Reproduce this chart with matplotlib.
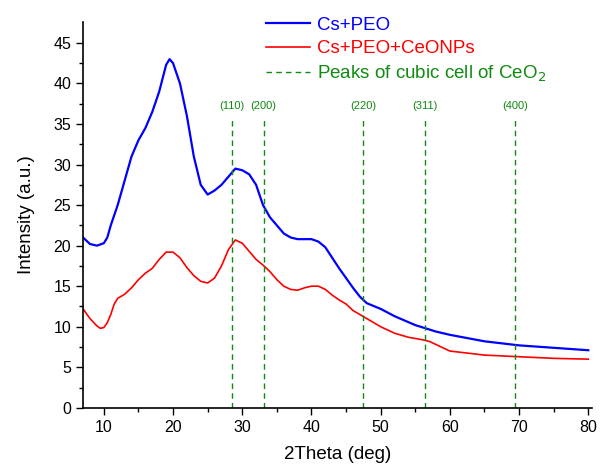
import numpy as np
import matplotlib
matplotlib.use('Agg')
import matplotlib.pyplot as plt

plt.rcParams['font.family'] = ['Liberation Sans', 'DejaVu Sans']

# Cs+PEO (blue)
two_theta_blue = [7, 8, 9, 10, 10.5, 11, 12, 13, 14, 15, 16, 17, 18, 19, 19.5, 20, 21, 22, 23, 24,
                  25, 26, 27, 28, 29, 30, 31, 32, 33, 34, 35, 36, 37, 38, 39, 40, 41, 42, 43, 44,
                  45, 46, 47, 48, 50, 52, 55, 58, 60, 65, 70, 75, 80]
intensity_blue = [21.0, 20.2, 20.0, 20.3, 21.0, 22.5, 25.0, 28.0, 31.0, 33.0, 34.5, 36.5, 39.0, 42.3, 43.0, 42.5, 40.0, 36.0, 31.0, 27.5,
                  26.3, 26.8, 27.5, 28.5, 29.5, 29.3, 28.8, 27.5, 25.0, 23.5, 22.5, 21.5, 21.0, 20.8, 20.8, 20.8, 20.5, 19.8, 18.5, 17.2,
                  16.0, 14.8, 13.7, 12.9, 12.2, 11.3, 10.2, 9.4, 9.0, 8.2, 7.7, 7.4, 7.1]

# Cs+PEO+CeONPs (red)
two_theta_red = [7, 8, 9, 9.5, 10, 10.5, 11, 11.5, 12, 13, 14, 15, 16, 17, 18, 19, 20, 21, 22, 23,
                 24, 25, 26, 27, 28, 29, 30, 31, 32, 33, 34, 35, 36, 37, 38, 39, 40, 41, 42, 43,
                 44, 45, 46, 47, 48, 50, 52, 54, 56, 57, 60, 65, 70, 75, 80]
intensity_red = [12.2, 11.0, 10.1, 9.8, 9.9, 10.5, 11.5, 12.8, 13.5, 14.0, 14.8, 15.8, 16.6, 17.2, 18.3, 19.2, 19.2, 18.5, 17.3, 16.3,
                 15.6, 15.4, 16.0, 17.5, 19.5, 20.7, 20.3, 19.3, 18.3, 17.6, 16.8, 15.8, 15.0, 14.6, 14.5, 14.8, 15.0, 15.0, 14.6, 13.9,
                 13.3, 12.8, 12.0, 11.5, 11.0, 10.0, 9.2, 8.7, 8.4, 8.2, 7.0, 6.5, 6.3, 6.1, 6.0]

# CeO2 cubic reflections
peak_positions = [28.55, 33.08, 47.48, 56.34, 69.4]
peak_labels = ['(110)', '(200)', '(220)', '(311)', '(400)']

GREEN = '#108a10'

fig = plt.figure(figsize=(6.02, 4.65), dpi=100)
ax = fig.add_axes([0.138, 0.123, 0.845, 0.830])

ax.plot(two_theta_blue, intensity_blue, color='#0000ff', lw=1.6, label='Cs+PEO')
ax.plot(two_theta_red, intensity_red, color='#ff0000', lw=1.2, label='Cs+PEO+CeONPs')

for i, (pos, lab) in enumerate(zip(peak_positions, peak_labels)):
    ax.plot([pos, pos], [0, 35.9], color=GREEN, lw=1.0, ls=(0, (4, 3)),
            label='Peaks of cubic cell of CeO$_2$' if i == 0 else None)
    ax.text(pos, 36.6, lab, color=GREEN, fontsize=8, ha='center', va='bottom')

ax.set_xlim(7, 80.5)
ax.set_ylim(0, 47.6)
ax.set_xticks([10, 20, 30, 40, 50, 60, 70, 80])
ax.set_xticks(np.arange(15, 80, 10), minor=True)
ax.set_yticks(np.arange(0, 46, 5))
ax.set_yticks(np.arange(2.5, 47, 5), minor=True)
ax.tick_params(which='major', direction='out', length=5, width=1, labelsize=11.5, colors='black')
ax.tick_params(which='minor', direction='out', length=3, width=1)
for side in ('top', 'right'):
    ax.spines[side].set_visible(False)
for side in ('left', 'bottom'):
    ax.spines[side].set_linewidth(1.2)

ax.set_xlabel('2Theta (deg)', fontsize=13.5, labelpad=8)
ax.set_ylabel('Intensity (a.u.)', fontsize=13.5, labelpad=13)

ax.legend(loc='upper left', bbox_to_anchor=(257 / 602, 1 - 7 / 465), bbox_transform=fig.transFigure,
          frameon=False, fontsize=13.5, handlelength=2.3, handletextpad=0.4, labelspacing=0.35,
          borderpad=0, labelcolor='linecolor')

fig.savefig('out.png', dpi=100)
